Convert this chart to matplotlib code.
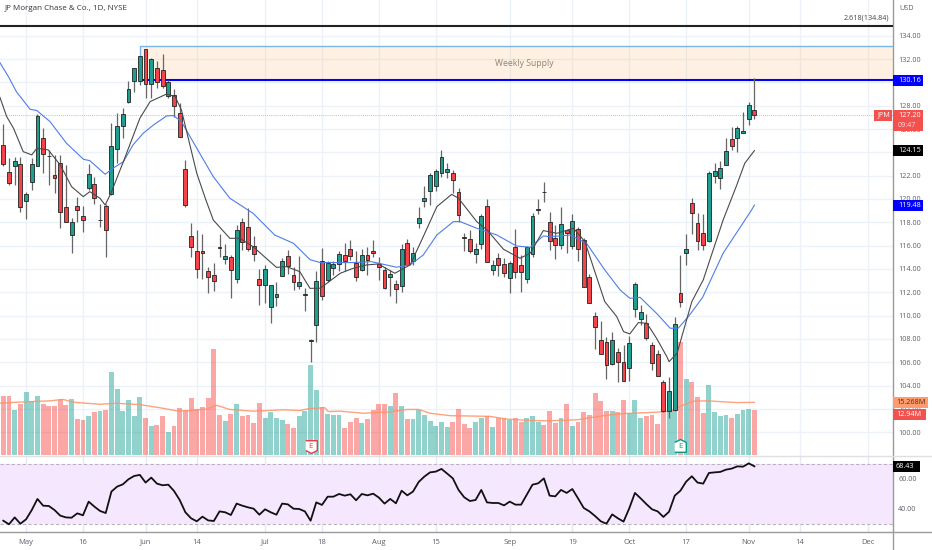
import numpy as np
import matplotlib
matplotlib.use("Agg")
import matplotlib.pyplot as plt
from matplotlib.patches import Rectangle

plt.rcParams['font.family'] = ['Open Sans', 'DejaVu Sans']

# daily candles, 26 Apr - 2 Nov
opens = [124.6,122.3,122.8,123.0,119.85,121.5,122.8,125.25,123.72,122.05,
         123.05,119.3,116.9,119.4,118.5,120.95,121.3,118.18,119.4,120.45,
         124.3,126.25,128.3,130.15,130.15,132.85,129.9,131.2,131.05,128.8,
         128.9,127.35,122.55,116.83,115.5,115.55,113.8,113.5,115.85,114.85,
         115,113.15,118,117.6,116,113.1,112.6,110.7,111.6,113.4,
         115.1,113.5,112.5,111.78,107.85,109.2,114.7,113.05,114.05,114.4,
         115.2,115.75,114.55,113.95,115.2,115.55,114.45,113.9,113.35,112.75,
         112.5,116.2,114.7,117.9,119.8,120.65,121.1,122.25,122.3,122.2,
         120.6,116.72,116.6,115.25,116.15,119.4,113.95,114.9,114.4,113.25,
         115.85,114.3,113.1,115.25,119.05,120.62,118,116.65,116.05,117.3,
         115.95,117.4,116.5,113.35,110,107.9,107.7,105.85,106.9,106,
         105.55,110.55,109.7,109.4,107.5,106.7,104.35,101.8,101.9,111.9,
         115.35,119.63,117.97,117.1,116.43,121.97,121.8,122.9,125.17,125.23,
         125.7,126.83,127.63]
closes = [123.0,121.35,123.3,119.35,120.4,123.0,127.1,123.85,123.68,121.8,
          118.85,118.05,118.0,119.05,118.2,122.15,120.05,118.22,117.3,124.55,
          126.3,127.25,129.4,131.25,132.25,129.9,132,130.05,129.7,130.05,
          128,125.3,119.5,115.9,114,115.35,113.35,113,115.81,115.15,
          113.9,117.3,116.35,115.7,115.25,112.6,114,112.6,111.85,114.7,
          114.25,112.85,112.9,111.82,107.95,112.95,111.7,114.5,114.45,115.26,
          114.7,115.15,113.35,115.2,114.75,115.35,114.2,112.35,113.55,112.3,
          115.75,114.3,115.35,118.35,120.05,122.1,122.4,123.6,122.55,121.65,
          118.6,116.68,115.5,115.7,118.5,114.6,114.35,114.35,113.65,114.5,
          113.7,113.7,115.85,118.5,119.15,120.58,116.4,116.05,117.85,117.05,
          118.15,115.75,112.45,111.1,109.06,106.7,105.75,107.95,106.05,104.4,
          107.65,112.7,110.35,108.05,105.9,104.85,101.8,103.5,109.3,111.15,
          115.75,118.83,116.43,116.06,122.2,122.37,122.63,124.1,124.55,126.06,
          125.86,128.1,127.2]
highs = [126.4,123.5,123.6,123.6,120.6,123.55,127.25,126.1,124.2,123.8,
         123.8,122.9,118.35,120.2,119.4,123,121.9,119.6,119.6,126.55,
         127.4,127.8,130.15,131.25,132.25,132.9,132.1,131.8,132.4,130.2,
         129.4,128.2,123.35,117.9,117.3,117,114.2,114.55,117,116.1,
         115.2,117.8,118.4,119.2,116.8,114,114.3,112.6,112.9,114.9,
         115.6,114.15,115.15,112.4,108,113.85,115.8,114.65,114.7,115.5,
         116.2,116.45,115.5,115.7,115.9,116.5,115.05,114.2,113.9,113.05,
         116.15,116.6,115.9,119.35,121.15,122.25,122.6,124.2,123.1,122.5,
         120.9,117.05,117.3,116.2,118.7,120,114.75,115.35,114.9,114.65,
         117.4,115.2,116,118.8,120,121.5,118.85,117.8,119.35,117.35,
         118.7,117.6,116.65,113.6,110.3,109.55,108.15,108.6,107.2,107.5,
         108.25,112.9,110.9,110.1,107.75,107.05,104.5,104.7,109.85,115.2,
         117,120.05,118.8,118.7,122.4,123.06,123.26,125.2,126.2,126.26,
         127.43,128.3,130.35]
lows = [122.8,121.2,121.2,118.9,118.25,120.8,122.8,122.2,121.2,120.55,
        117.55,118,115.4,118,117.2,120.8,119.55,117.6,115.05,120.3,
        123.1,125.2,128.2,129.2,129.8,128.7,128.7,129.5,129.5,128.7,
        127.05,125.3,119.35,115.05,113.2,113.1,111.9,112.15,115.05,114.4,
        111.5,112.8,115.6,115.55,114.7,110.9,111.1,109.35,110.8,113.4,
        113.55,112.2,112.25,110.4,106,107.7,111.3,112.9,113.5,113.8,
        113.8,114.75,113,113.85,113.5,115,113.05,112.3,111.7,111.05,
        112.05,114.3,114.3,117.5,119.35,119.45,120.65,121.9,121.8,120.5,
        118.05,115.5,115.35,114.5,115.7,114.6,113.5,113.4,113.35,111.9,
        113.2,112.05,112.8,115.05,118.7,119.75,115.65,114.85,115.75,115.4,
        115.75,114.65,112.45,111.1,107.1,106.7,104.6,105.75,104.35,104.4,
        104.4,109.9,109.2,107.9,105.3,104.85,101.7,101.2,101.8,110.75,
        114.35,117,115.63,115.63,116.35,121.35,120.86,122.9,124.2,124.06,
        125.7,126.35,126.83]

# volume in millions
volume = [17.1,17.1,13.0,14.8,18.4,15.7,17.1,14.8,14.3,14.1,
          16.2,14.5,16.2,10.4,10.2,11.2,12.6,12.8,13.1,24.0,
          19.1,12.8,15.8,11.2,16.8,10.8,8.3,8.7,11.2,6.8,
          8.5,13.5,12.9,16.6,13.3,13.9,16.6,30.6,11.6,9.9,
          11.8,14.7,11.2,11.6,9.3,15.1,10.6,12.4,10.6,10.2,
          8.9,7.9,11.2,12.8,26.0,18.7,13.8,11.8,11.6,11.6,
          7.7,9.5,10.6,9.3,10.4,12.9,14.7,14.9,14.3,17.9,
          14.2,10.3,10.3,12.9,11.7,10,8.5,9.6,8.2,9.6,
          13.3,9,7.7,9.7,10.6,11.4,8.2,10.8,10.8,10.1,
          10.6,9.7,10.6,11.4,9.5,8.7,12.8,9.4,10.8,14.7,
          8.4,9.7,12.6,11.6,18,15.7,12.8,12.8,12.6,15.9,
          12.1,15.9,10.8,11.4,11.6,8.9,13,13,13,32.8,
          22,21.3,16.7,12.3,20.3,12.6,11.2,11.6,10.6,11.8,
          13.1,13.3,12.94]
vol_ma_idx = [-0.6,2.3,8.2,10.5,12.3,17,19.9,24,27.5,30.5,32.2,35.7,37.5,39.8,43.9,49.2,52.1,53.9,56.5,57.1,
              59.2,63.3,68,70.9,73,75,78.5,85.5,88.5,92.6,95.5,100.8,105.5,109,114.8,117.2,119.5,121.3,123.6,128.9,132]
vol_ma = [15,15.3,15.7,16.1,15.3,14.7,15,14.6,13.7,12.8,12.8,13.3,14.4,13.2,12.7,13.1,12.9,13.5,13.7,12.6,
          12.7,12.1,12.5,13.2,13.2,12.1,11.4,11.2,10.4,10,9.9,10.2,11.4,12,12.4,12.7,14.5,15.6,15.7,15.2,15.27]

# black and blue averages
fast_idx = [-0.6,0.6,1.8,3.5,5,5.9,7.9,10,12,14.06,15.2,17,17.9,18.9,21.1,24,25.8,28.7,30.2,31.3,34,35.6,36.9,39.8,41.6,43.9,48,49.8,52.1,
            53.9,55.7,59.2,61.5,63.9,65.9,68.8,71.5,73.8,76.2,78.8,80,83.2,85,87.9,90.8,92.6,94.9,97.3,100.2,102.2,105.7,107.8,109,110.1,111.6,113.1,114.8,116.6,117,118.4,121,123,126.5,128.9,130.3,132]
fast_ma = [128.72,127.06,126.06,124.06,123.78,124.35,124.21,122.92,121.06,120.2,120.63,120.06,119.48,120.48,123.2,126.92,128.35,129,128.78,127.64,122.2,119.92,118.2,116.63,116.63,115.91,114.14,114.2,113.77,
           112.34,112.35,113.63,114.06,114.35,114.43,113.63,114.35,116.77,119.35,120.4,120.06,118.06,117.35,115.69,114.92,115.35,117.29,117.06,117.49,116.35,111.2,109.92,108.63,108.43,109.4,109.35,108.06,106.49,106.06,106.77,111.2,113.06,118.2,121.2,123.06,124.15]
slow_idx = [-0.6,0.9,2.3,4.7,5.9,8.2,11.1,14.1,15.2,17.9,19.3,21.1,22.8,24.6,26.4,28.7,29.9,31.3,34,36.9,39.8,43.9,47.7,51,53.9,
            55.7,61.5,64.7,69.1,71.5,73.8,76.2,79.1,80.3,83.2,86.7,90.2,92.6,94.9,96.1,99.6,102.5,105.7,108.4,110.1,111.9,114.8,117.2,118.6,120.4,122.9,126.5,131.5,132]
slow_ma = [131.69,130.49,129.2,127.7,127.58,126.64,124.78,123.4,123.29,122.12,122.64,123.2,124.64,125.64,126.35,127.12,127.15,126.64,124.35,121.92,120.07,118.77,116.91,116.2,114.8,
           114.55,114.55,114.63,114.15,114.35,115.2,116.92,118.06,118.06,117.49,116.92,115.97,115.86,116.83,116.77,116.91,116.2,113.92,112.2,111.49,111.57,110.2,108.92,108.92,109.92,111.57,115.35,119.06,119.48]

rsi = [32.2,29.8,34.4,30.2,33.1,39.3,46.7,42.2,42,39.3,
       35.6,34.4,34.2,37.1,35.8,44.9,41.6,38.7,37.3,51.6,
       54.9,56.4,59.8,62,62.7,57.6,60.9,56.9,55.8,56.2,
       52,46,37.8,33.8,31.8,34.9,32.4,32,38.4,37.8,
       36,43.6,42.2,41.1,40.2,36.2,39.8,37.8,36.2,43.6,
       43.1,40.2,40,38.4,32.2,44.4,42.7,48.2,48.2,50,
       48.9,49.8,45.8,50,49.1,50.2,47.6,43.6,46.7,43.8,
       52.2,49.1,51.6,58,61.6,64.4,64.9,66.7,63.6,60.4,
       52.7,47.8,45.3,46,52.7,44.4,44,44,42.4,44.9,
       42.9,42.9,49.6,56.2,57.1,60.4,48.9,48.4,52.7,50.7,
       53.3,47.1,40.7,38.4,35.3,31.8,30.2,36.4,33.8,31.6,
       40.4,50.7,47.1,43.3,39.8,38.4,34.7,38.2,48.9,52.2,
       58.2,61.8,57.6,56.9,64,64.4,64.7,66.2,66.9,68.4,
       68.2,70.4,68.43]

date_idx = [4,14,25,34,46,56,66,76,89,100,110,120,131,140,152]
date_labels = ['May','16','Jun','14','Jul','18','Aug','15','Sep','19','Oct','17','Nov','14','Dec']
price_ticks = list(range(100, 136, 2))
rsi_ticks = [40, 60]
earnings_idx = [54, 119]
earnings_colors = ['#f23645', '#089981']

GREEN = '#1f9d8f'
RED = '#f4444a'
W, H = 932, 550
FS = 5.2
idx = np.arange(len(closes))
opens, closes, highs, lows = map(np.array, (opens, closes, highs, lows))
up = closes >= opens
xlim = (-0.58, 156.3)


def pane(top, bottom, z=0):
    a = plt.axes([0, 1 - bottom / H, 892.7 / W, (bottom - top) / H], zorder=z)
    a.set_xlim(*xlim)
    for s in a.spines.values():
        s.set_visible(False)
    return a


fig = plt.figure(figsize=(W / 100, H / 100), dpi=100)

# grid and price scale sit on the bottom layer
ax = pane(0, 455.5, 0)
ax.set_ylim(98.01, 137.06)
ax.set_yticks(price_ticks)
ax.set_yticklabels(['%.2f' % t for t in price_ticks])
ax.yaxis.tick_right()
ax.set_xticks(date_idx)
ax.tick_params(axis='x', length=0, labelbottom=False)
ax.tick_params(axis='y', length=0, pad=4, labelsize=FS, labelcolor='#5d606b')
ax.grid(color='#edf2f8', lw=1)
ax.set_axisbelow(True)

# volume
axv = pane(0, 455, 1)
axv.patch.set_alpha(0)
axv.set_ylim(0, 455 / 3.45)
axv.set_xticks([])
axv.set_yticks([])
axv.bar(idx, volume, width=0.86, color=np.where(up, '#26a69a', '#f6504e'), alpha=0.5, lw=0)
axv.plot(vol_ma_idx, vol_ma, color='#ff9268', lw=1, alpha=0.85)
for i, col in zip(earnings_idx, earnings_colors):
    shape = [(-1, 1), (1, 1), (1, -0.7), (0, -1.2), (-1, -0.7)] if col == '#f23645' else [(-1, -1), (1, -1), (1, 0.7), (0, 1.2), (-1, 0.7)]
    axv.plot([i], [2.5], marker=shape, ms=10, mfc='white', mec=col, mew=1, ls='none')
    axv.text(i, 2.5, 'E', color=col, fontsize=5.8, ha='center', va='center')

# candles and drawings
axp = pane(0, 455.5, 2)
axp.patch.set_alpha(0)
axp.set_ylim(98.01, 137.06)
axp.set_xticks([])
axp.set_yticks([])
axp.add_patch(Rectangle((24, 130.16), 200, 2.94, fc='#fb9a2c', alpha=0.13, lw=0))
axp.plot([200, 24, 24], [133.1, 133.1, 130.16], color='#7ab6e6', lw=1)
axp.text(91.5, 131.6, 'Weekly Supply', color='#8f8471', fontsize=6.2, ha='center', va='center')
axp.plot([24, 200], [130.16, 130.16], color='#0000ff', lw=1.5)
axp.axhline(134.84, color='#222222', lw=1.5)
axp.text(155.6, 135.2, '2.618(134.84)', color='#444444', fontsize=5.2, ha='right', va='bottom')
axp.axhline(closes[-1], color='#f5898b', lw=0.6, ls=(0, (1, 1.5)))
axp.vlines(idx, lows, highs, color='#666666', lw=0.9)
axp.bar(idx, np.abs(closes - opens), bottom=np.minimum(opens, closes), width=0.68,
        color=np.where(up, GREEN, RED), edgecolor='#222222', lw=0.6, zorder=3)
axp.plot(slow_idx, slow_ma, color='#4f7cea', lw=0.8, zorder=4)
axp.plot(fast_idx, fast_ma, color='#4a4a4a', lw=0.8, zorder=4)

# RSI pane
axr = pane(456, 531.7, 0)
axr.set_ylim(24.87, 75.3)
axr.axhspan(30, 70, color='#f5e8fe', lw=0)
axr.axhline(70, color='#b9b2bf', lw=0.8, ls=(0, (3, 2)))
axr.axhline(30, color='#b9b2bf', lw=0.8, ls=(0, (3, 2)))
axr.plot(idx, rsi, color='#111111', lw=1.3)
axr.set_yticks(rsi_ticks)
axr.set_yticklabels(['%.2f' % t for t in rsi_ticks])
axr.yaxis.tick_right()
axr.set_xticks(date_idx)
axr.set_xticklabels(date_labels)
axr.tick_params(axis='y', length=0, pad=4, labelsize=FS, labelcolor='#5d606b')
axr.tick_params(axis='x', length=0, pad=5, labelsize=FS + 0.3, labelcolor='#5d606b')
axr.grid(color='#e9e6f5', lw=1)
axr.set_axisbelow(True)


# scale tags are placed in picture pixels, next to where the value falls
def tag(a, y, txt, bg, fg='white', right=923, shift=0, h=11, x0=893, tx=898):
    py = H - a.transData.transform((0, y))[1] + shift
    fig.add_artist(Rectangle((x0 / W, 1 - (py + h / 2) / H), (right - x0) / W, h / H, fc=bg, lw=0,
                             transform=fig.transFigure, zorder=10))
    fig.text(tx / W, 1 - py / H, txt, color=fg, fontsize=FS, va='center', zorder=11)


tag(axp, 130.16, '130.16', '#0000ff')
tag(axp, 124.15, '124.15', '#000000')
tag(axp, 119.48, '119.48', '#0000ff')
tag(axp, closes[-1], '', '#f4504e', shift=5, h=21)
tag(axp, closes[-1], '127.20', '#f4504e', shift=0)
tag(axp, closes[-1], '09:47', '#f4504e', fg='#ffdcdc', shift=10)
tag(axp, closes[-1], 'JPM', '#f4504e', x0=874, right=892, tx=878)
tag(axv, 15.268, '15.268M', '#ff9c6e', fg='#5a2a10', right=928, tx=896)
tag(axv, 12.94, '12.94M', '#f4504e', right=926, tx=896, shift=4.5)
tag(axr, rsi[-1], '68.43', '#000000', right=920, tx=896)

# frame lines
fig.add_artist(plt.Line2D([892.9 / W] * 2, [0, 1], color='#9a9a9a', lw=1))
fig.add_artist(plt.Line2D([0, 1], [1 - 531.7 / H] * 2, color='#9a9a9a', lw=1))
fig.add_artist(plt.Line2D([0, 1], [1 - 455.7 / H] * 2, color='#e0e0e0', lw=1))

fig.text(5 / W, 1 - 8 / H, 'JP Morgan Chase & Co., 1D, NYSE', color='#333333', fontsize=5.8, va='center')
fig.text(899 / W, 1 - 9 / H, 'USD', color='#5d606b', fontsize=FS, va='center')

fig.savefig('out.png', dpi=100)
